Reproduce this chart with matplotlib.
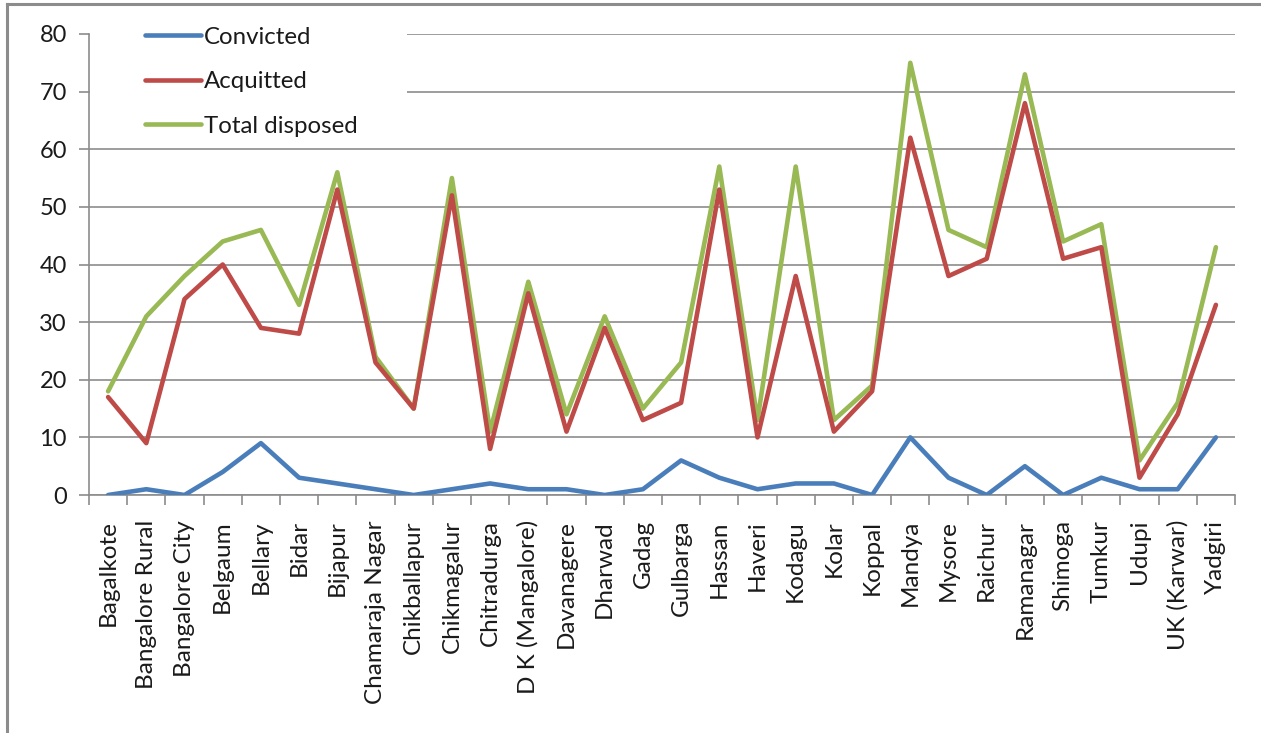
import matplotlib
matplotlib.use("Agg")
import matplotlib.pyplot as plt
from matplotlib.lines import Line2D
from matplotlib.patches import Rectangle
import numpy as np

districts = [
    "Bagalkote", "Bangalore Rural", "Bangalore City", "Belgaum", "Bellary",
    "Bidar", "Bijapur", "Chamaraja Nagar", "Chikballapur", "Chikmagalur",
    "Chitradurga", "D K (Mangalore)", "Davanagere", "Dharwad", "Gadag",
    "Gulbarga", "Hassan", "Haveri", "Kodagu", "Kolar", "Koppal", "Mandya",
    "Mysore", "Raichur", "Ramanagar", "Shimoga", "Tumkur", "Udupi",
    "UK (Karwar)", "Yadgiri",
]

convicted = [0, 1, 0, 4, 9, 3, 2, 1, 0, 1, 2, 1, 1, 0, 1, 6, 3, 1, 2, 2, 0,
             10, 3, 0, 5, 0, 3, 1, 1, 10]
acquitted = [17, 9, 34, 40, 29, 28, 53, 23, 15, 52, 8, 35, 11, 29, 13, 16, 53,
             10, 38, 11, 18, 62, 38, 41, 68, 41, 43, 3, 14, 33]
total_disposed = [18, 31, 38, 44, 46, 33, 56, 24, 15, 55, 11, 37, 14, 31, 15,
                  23, 57, 13, 57, 13, 19, 75, 46, 43, 73, 44, 47, 6, 16, 43]

y_ticks = [0, 10, 20, 30, 40, 50, 60, 70, 80]

plt.rcParams["font.family"] = ["Lato", "DejaVu Sans"]

W, H = 1261, 733
ax_l, ax_r, ax_b, ax_t = 89, 1235, 495, 34
fig = plt.figure(figsize=(W / 100, H / 100), dpi=100)
ax = fig.add_axes([ax_l / W, 1 - ax_b / H, (ax_r - ax_l) / W, (ax_b - ax_t) / H])

x = np.arange(len(districts))
lw = 3.3
ax.plot(x, convicted, color="#4A7EBB", lw=lw, label="Convicted",
        solid_joinstyle="round", solid_capstyle="round", zorder=3)
ax.plot(x, acquitted, color="#BE4B48", lw=lw, label="Acquitted",
        solid_joinstyle="round", solid_capstyle="round", zorder=3)
ax.plot(x, total_disposed, color="#98B954", lw=lw, label="Total disposed",
        solid_joinstyle="round", solid_capstyle="round", zorder=2)

ax.set_xlim(-0.5, len(districts) - 0.5)
ax.set_ylim(0, 80)
ax.set_yticks(y_ticks)
ax.yaxis.grid(True, color="#8C8C8C", lw=1.2)
ax.set_axisbelow(True)

ax.set_xticks(x)
ax.set_xticklabels(districts, rotation=90, fontsize=17.5, color="#1a1a1a")
ax.set_xticks(np.arange(-0.5, len(districts)), minor=True)
ax.tick_params(axis="x", which="major", length=0, pad=18)
ax.tick_params(axis="x", which="minor", length=7, width=1.2, color="#8C8C8C")
ax.tick_params(axis="y", length=7, width=1.2, color="#8C8C8C", pad=9,
               labelsize=17, labelcolor="#1a1a1a")

for side in ("top", "right"):
    ax.spines[side].set_visible(False)
for side in ("left", "bottom"):
    ax.spines[side].set_color("#8C8C8C")
    ax.spines[side].set_linewidth(1.2)

# white legend area that hides the upper gridlines behind the key
box_x0, box_x1, box_y0, box_y1 = 90, 407, 145, 15
ax.add_patch(Rectangle(((box_x0 - ax_l) / (ax_r - ax_l), (ax_b - box_y0) / (ax_b - ax_t)),
                       (box_x1 - box_x0) / (ax_r - ax_l), (box_y0 - box_y1) / (ax_b - ax_t),
                       transform=ax.transAxes, facecolor="white", edgecolor="none",
                       zorder=1, clip_on=False))

leg = ax.legend(loc="upper left", bbox_to_anchor=(0.043, 1.0315),
                borderaxespad=0, frameon=False, fontsize=17.3,
                handlelength=2.3, handletextpad=0.12, labelspacing=0.98,
                borderpad=0.3)
for t in leg.get_texts():
    t.set_color("#1a1a1a")

# outer chart frame (top and left edges)
fig.add_artist(Line2D([7 / W, 7 / W], [0, 1 - 4 / H], transform=fig.transFigure,
                      color="#8C8C8C", lw=2.2))
fig.add_artist(Line2D([7 / W, 1], [1 - 4 / H, 1 - 4 / H], transform=fig.transFigure,
                      color="#8C8C8C", lw=2.2))

fig.savefig("out.png", dpi=100, facecolor="white")
